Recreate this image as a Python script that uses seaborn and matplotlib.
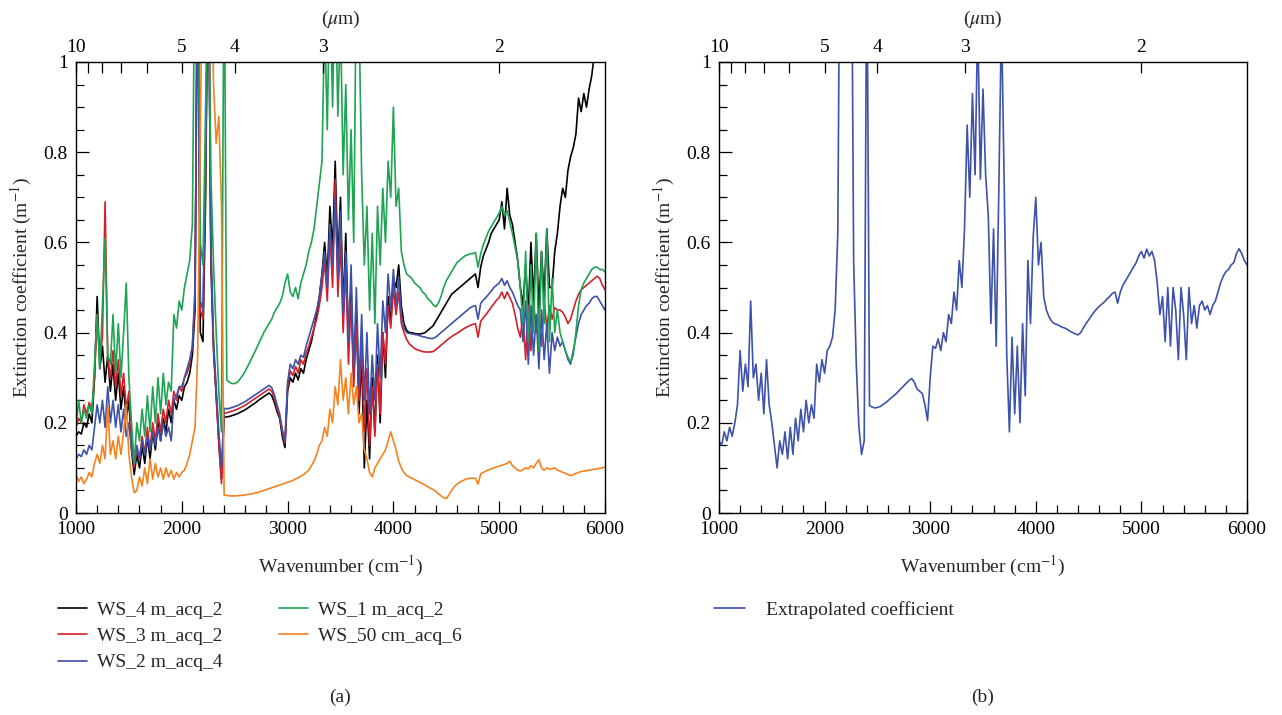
import numpy as np
import pandas as pd
import matplotlib
matplotlib.use("Agg")
import matplotlib.pyplot as plt
import seaborn as sns

# ---------------- data ----------------
wavenumber = list(range(1000, 6001, 25))  # cm^-1

ws_4m_acq_2 = [
    0.17, 0.18, 0.175, 0.20, 0.19, 0.22, 0.20, 0.30, 0.48, 0.32, 0.37, 0.29, 0.35, 0.27, 0.33, 0.25, 0.31, 0.23, 0.28, 0.21,
    0.25, 0.14, 0.085, 0.13, 0.10, 0.15, 0.11, 0.17, 0.12, 0.18, 0.14, 0.20, 0.16, 0.21, 0.18, 0.23, 0.20, 0.25, 0.23, 0.26,
    0.25, 0.28, 0.29, 0.31, 0.35, 0.45, 1.3, 0.40, 0.38, 0.70, 1.3, 0.55, 0.36, 0.26, 0.16, 0.075, 0.213, 0.213, 0.214, 0.216,
    0.218, 0.22, 0.223, 0.226, 0.229, 0.233, 0.237, 0.241, 0.245, 0.25, 0.254, 0.258, 0.262, 0.266, 0.26, 0.245, 0.225, 0.21, 0.17, 0.145,
    0.27, 0.30, 0.29, 0.31, 0.295, 0.32, 0.31, 0.34, 0.36, 0.38, 0.41, 0.44, 0.48, 0.53, 0.60, 0.52, 0.68, 0.58, 0.78, 0.55,
    0.70, 0.45, 0.62, 0.38, 0.50, 0.30, 0.45, 0.22, 0.35, 0.10, 0.25, 0.12, 0.30, 0.18, 0.35, 0.20, 0.40, 0.30, 0.48, 0.42,
    0.52, 0.50, 0.55, 0.46, 0.42, 0.405, 0.40, 0.40, 0.398, 0.397, 0.397, 0.398, 0.40, 0.405, 0.41, 0.415, 0.425, 0.435, 0.445, 0.455,
    0.465, 0.475, 0.485, 0.49, 0.495, 0.50, 0.505, 0.51, 0.515, 0.52, 0.525, 0.53, 0.50, 0.545, 0.57, 0.585, 0.60, 0.62, 0.63, 0.64,
    0.65, 0.69, 0.63, 0.72, 0.66, 0.64, 0.60, 0.56, 0.50, 0.46, 0.55, 0.44, 0.60, 0.47, 0.62, 0.45, 0.58, 0.48, 0.63, 0.50,
    0.50, 0.58, 0.62, 0.68, 0.72, 0.70, 0.76, 0.79, 0.81, 0.84, 0.92, 0.89, 0.93, 0.90, 0.94, 0.97, 1.02, 1.08, 1.12, 1.16,
    1.2,
]

ws_3m_acq_2 = [
    0.19, 0.21, 0.20, 0.24, 0.22, 0.245, 0.23, 0.30, 0.44, 0.34, 0.39, 0.69, 0.34, 0.30, 0.36, 0.28, 0.34, 0.26, 0.31, 0.23,
    0.27, 0.16, 0.10, 0.14, 0.12, 0.17, 0.13, 0.19, 0.14, 0.20, 0.16, 0.22, 0.18, 0.23, 0.20, 0.25, 0.22, 0.27, 0.25, 0.28,
    0.27, 0.30, 0.31, 0.33, 0.37, 0.48, 1.3, 0.45, 0.43, 0.75, 1.3, 0.58, 0.37, 0.26, 0.15, 0.065, 0.222, 0.222, 0.224, 0.226,
    0.228, 0.23, 0.233, 0.236, 0.239, 0.243, 0.247, 0.251, 0.255, 0.259, 0.263, 0.267, 0.271, 0.275, 0.27, 0.255, 0.232, 0.215, 0.18, 0.155,
    0.28, 0.315, 0.305, 0.325, 0.31, 0.34, 0.33, 0.355, 0.37, 0.39, 0.41, 0.43, 0.46, 0.50, 0.56, 0.47, 0.62, 0.50, 0.74, 0.48,
    0.60, 0.40, 0.55, 0.33, 0.47, 0.28, 0.42, 0.25, 0.38, 0.18, 0.32, 0.15, 0.28, 0.17, 0.33, 0.22, 0.40, 0.33, 0.46, 0.41,
    0.50, 0.44, 0.49, 0.42, 0.40, 0.385, 0.375, 0.37, 0.365, 0.362, 0.36, 0.358, 0.357, 0.357, 0.357, 0.358, 0.362, 0.367, 0.372, 0.377,
    0.382, 0.387, 0.391, 0.395, 0.398, 0.402, 0.406, 0.41, 0.413, 0.416, 0.418, 0.42, 0.39, 0.425, 0.433, 0.44, 0.448, 0.456, 0.464, 0.472,
    0.478, 0.49, 0.475, 0.49, 0.478, 0.465, 0.44, 0.41, 0.39, 0.44, 0.34, 0.46, 0.36, 0.47, 0.40, 0.45, 0.37, 0.47, 0.41, 0.46,
    0.43, 0.455, 0.45, 0.45, 0.445, 0.435, 0.42, 0.43, 0.45, 0.47, 0.485, 0.495, 0.50, 0.505, 0.51, 0.515, 0.52, 0.525, 0.52, 0.505,
    0.495,
]

ws_2m_acq_4 = [
    0.12, 0.13, 0.125, 0.14, 0.13, 0.15, 0.14, 0.19, 0.24, 0.20, 0.25, 0.19, 0.28, 0.20, 0.25, 0.19, 0.24, 0.18, 0.23, 0.17,
    0.20, 0.14, 0.11, 0.15, 0.12, 0.16, 0.13, 0.17, 0.14, 0.18, 0.15, 0.19, 0.16, 0.20, 0.17, 0.19, 0.16, 0.25, 0.26, 0.28,
    0.28, 0.30, 0.32, 0.34, 0.37, 0.50, 1.3, 0.47, 0.45, 0.78, 1.3, 0.60, 0.38, 0.28, 0.18, 0.10, 0.232, 0.231, 0.232, 0.234,
    0.236, 0.238, 0.241, 0.244, 0.247, 0.251, 0.255, 0.259, 0.263, 0.267, 0.271, 0.275, 0.279, 0.283, 0.278, 0.262, 0.24, 0.22, 0.185, 0.16,
    0.29, 0.33, 0.32, 0.34, 0.33, 0.35, 0.345, 0.37, 0.39, 0.41, 0.43, 0.45, 0.48, 0.53, 0.58, 0.50, 0.64, 0.55, 0.70, 0.52,
    0.67, 0.44, 0.58, 0.38, 0.55, 0.32, 0.50, 0.28, 0.44, 0.25, 0.40, 0.22, 0.35, 0.25, 0.42, 0.30, 0.47, 0.40, 0.53, 0.45,
    0.54, 0.46, 0.52, 0.44, 0.41, 0.40, 0.398, 0.397, 0.396, 0.395, 0.393, 0.391, 0.39, 0.388, 0.387, 0.387, 0.39, 0.395, 0.40, 0.405,
    0.41, 0.415, 0.42, 0.425, 0.43, 0.435, 0.44, 0.445, 0.45, 0.455, 0.458, 0.46, 0.43, 0.465, 0.472, 0.478, 0.485, 0.492, 0.50, 0.505,
    0.51, 0.52, 0.505, 0.515, 0.50, 0.49, 0.475, 0.46, 0.45, 0.38, 0.47, 0.33, 0.46, 0.35, 0.44, 0.32, 0.45, 0.34, 0.42, 0.31,
    0.40, 0.36, 0.39, 0.37, 0.38, 0.36, 0.34, 0.33, 0.36, 0.39, 0.42, 0.44, 0.45, 0.46, 0.465, 0.475, 0.48, 0.48, 0.47, 0.46,
    0.45,
]

ws_1m_acq_2 = [
    0.19, 0.25, 0.20, 0.23, 0.21, 0.24, 0.22, 0.33, 0.44, 0.32, 0.46, 0.61, 0.35, 0.33, 0.44, 0.31, 0.42, 0.30, 0.40, 0.51,
    0.30, 0.20, 0.11, 0.20, 0.16, 0.23, 0.17, 0.26, 0.18, 0.28, 0.20, 0.30, 0.22, 0.31, 0.24, 0.29, 0.27, 0.44, 0.41, 0.47,
    0.45, 0.50, 0.53, 0.56, 0.64, 1.3, 1.5, 0.60, 0.55, 0.90, 1.3, 0.75, 0.55, 0.40, 0.27, 0.18, 1.3, 0.295, 0.29, 0.287,
    0.287, 0.29, 0.297, 0.305, 0.315, 0.326, 0.338, 0.35, 0.362, 0.375, 0.387, 0.40, 0.41, 0.42, 0.43, 0.445, 0.455, 0.465, 0.48, 0.51,
    0.53, 0.49, 0.48, 0.50, 0.475, 0.51, 0.53, 0.55, 0.58, 0.60, 0.63, 0.68, 0.73, 0.78, 1.1, 0.85, 1.2, 0.90, 1.2, 0.88,
    1.1, 0.75, 0.95, 0.65, 0.85, 0.60, 1.2, 1.1, 0.75, 0.55, 0.68, 0.45, 0.62, 0.42, 0.68, 0.55, 0.72, 0.60, 0.78, 0.70,
    0.90, 0.68, 0.72, 0.58, 0.55, 0.53, 0.525, 0.52, 0.51, 0.505, 0.50, 0.49, 0.485, 0.475, 0.47, 0.462, 0.457, 0.465, 0.48, 0.50,
    0.515, 0.525, 0.535, 0.545, 0.555, 0.56, 0.565, 0.57, 0.572, 0.575, 0.575, 0.578, 0.545, 0.575, 0.595, 0.61, 0.625, 0.635, 0.645, 0.655,
    0.665, 0.68, 0.66, 0.67, 0.645, 0.62, 0.59, 0.56, 0.50, 0.42, 0.58, 0.38, 0.55, 0.40, 0.62, 0.36, 0.58, 0.42, 0.63, 0.38,
    0.52, 0.40, 0.45, 0.40, 0.38, 0.36, 0.345, 0.335, 0.35, 0.40, 0.46, 0.495, 0.51, 0.52, 0.53, 0.54, 0.545, 0.545, 0.54, 0.54,
    0.535,
]

ws_50cm_acq_6 = [
    0.085, 0.07, 0.08, 0.065, 0.075, 0.09, 0.08, 0.11, 0.13, 0.11, 0.15, 0.12, 0.24, 0.13, 0.16, 0.12, 0.17, 0.13, 0.18, 0.24,
    0.13, 0.08, 0.045, 0.05, 0.08, 0.06, 0.10, 0.065, 0.12, 0.075, 0.11, 0.08, 0.10, 0.075, 0.10, 0.08, 0.095, 0.075, 0.09, 0.08,
    0.09, 0.095, 0.11, 0.13, 0.16, 0.19, 0.35, 0.85, 1.3, 1.5, 1.5, 1.3, 0.95, 0.82, 0.88, 0.68, 0.04, 0.039, 0.038, 0.038,
    0.038, 0.038, 0.039, 0.039, 0.04, 0.041, 0.042, 0.043, 0.045, 0.046, 0.048, 0.05, 0.052, 0.054, 0.056, 0.058, 0.06, 0.062, 0.064, 0.066,
    0.068, 0.07, 0.072, 0.076, 0.078, 0.082, 0.085, 0.09, 0.095, 0.105, 0.115, 0.13, 0.15, 0.16, 0.19, 0.17, 0.23, 0.20, 0.28, 0.24,
    0.34, 0.25, 0.30, 0.22, 0.31, 0.24, 0.28, 0.20, 0.22, 0.14, 0.12, 0.09, 0.08, 0.10, 0.11, 0.12, 0.13, 0.14, 0.16, 0.18,
    0.16, 0.14, 0.115, 0.10, 0.09, 0.083, 0.08, 0.077, 0.074, 0.071, 0.068, 0.065, 0.062, 0.058, 0.055, 0.052, 0.048, 0.043, 0.038, 0.034,
    0.032, 0.04, 0.05, 0.058, 0.064, 0.068, 0.071, 0.074, 0.076, 0.077, 0.077, 0.077, 0.064, 0.087, 0.09, 0.093, 0.096, 0.098, 0.10, 0.102,
    0.104, 0.106, 0.108, 0.11, 0.115, 0.105, 0.10, 0.095, 0.093, 0.096, 0.10, 0.098, 0.105, 0.10, 0.11, 0.118, 0.10, 0.095, 0.10, 0.097,
    0.098, 0.10, 0.095, 0.093, 0.09, 0.088, 0.085, 0.083, 0.085, 0.088, 0.09, 0.092, 0.093, 0.094, 0.095, 0.096, 0.097, 0.098, 0.099, 0.10,
    0.102,
]

extrapolated = [
    0.16, 0.15, 0.18, 0.16, 0.19, 0.17, 0.20, 0.24, 0.36, 0.27, 0.33, 0.28, 0.47, 0.30, 0.33, 0.25, 0.31, 0.22, 0.34, 0.24,
    0.20, 0.15, 0.10, 0.16, 0.13, 0.18, 0.12, 0.19, 0.13, 0.21, 0.16, 0.23, 0.18, 0.25, 0.20, 0.24, 0.21, 0.33, 0.29, 0.34,
    0.31, 0.36, 0.37, 0.39, 0.45, 0.62, 1.5, 1.5, 1.5, 1.5, 1.5, 0.56, 0.33, 0.19, 0.13, 0.16, 1.3, 0.238, 0.235, 0.233,
    0.234, 0.236, 0.24, 0.244, 0.249, 0.254, 0.259, 0.264, 0.27, 0.276, 0.282, 0.288, 0.294, 0.298, 0.29, 0.275, 0.27, 0.265, 0.24, 0.205,
    0.30, 0.37, 0.365, 0.386, 0.36, 0.40, 0.38, 0.44, 0.42, 0.49, 0.45, 0.56, 0.50, 0.63, 0.86, 0.70, 0.93, 0.75, 1.1, 0.74,
    0.94, 0.75, 0.66, 0.42, 0.63, 0.37, 0.72, 1.1, 0.74, 0.35, 0.18, 0.39, 0.22, 0.37, 0.20, 0.42, 0.26, 0.56, 0.42, 0.61,
    0.70, 0.55, 0.60, 0.48, 0.45, 0.435, 0.425, 0.42, 0.418, 0.415, 0.412, 0.41, 0.407, 0.403, 0.40, 0.397, 0.395, 0.40, 0.41, 0.42,
    0.428, 0.437, 0.445, 0.452, 0.458, 0.463, 0.468, 0.475, 0.48, 0.487, 0.49, 0.465, 0.49, 0.505, 0.515, 0.525, 0.535, 0.545, 0.555, 0.57,
    0.58, 0.565, 0.585, 0.57, 0.58, 0.56, 0.51, 0.44, 0.48, 0.38, 0.50, 0.37, 0.50, 0.45, 0.34, 0.50, 0.44, 0.34, 0.50, 0.42,
    0.46, 0.41, 0.46, 0.47, 0.45, 0.46, 0.44, 0.46, 0.47, 0.49, 0.51, 0.525, 0.535, 0.54, 0.55, 0.555, 0.575, 0.586, 0.575, 0.56,
    0.55,
]

series_labels = ["WS_4 m_acq_2", "WS_3 m_acq_2", "WS_2 m_acq_4", "WS_1 m_acq_2", "WS_50 cm_acq_6"]
series_colors = ["#000000", "#d4202a", "#3d52a8", "#1fa354", "#f58220"]
micron_ticks = [10, 9, 8, 7, 6, 5, 4, 3, 2]
micron_labels = ["10", "", "", "", "", "5", "4", "3", "2"]

# ---------------- styling ----------------
sns.set_theme(style="ticks")
plt.rcParams["font.family"] = ["Liberation Serif", "DejaVu Serif"]
plt.rcParams["mathtext.fontset"] = "stix"
plt.rcParams["axes.linewidth"] = 1.0
FS = 14

fig = plt.figure(figsize=(12.82, 7.15), dpi=100)
W, H = 1282, 715
def rect(x0, y0, x1, y1):
    return [x0 / W, 1 - y1 / H, (x1 - x0) / W, (y1 - y0) / H]

axL = fig.add_axes(rect(76, 62, 605, 513))
axR = fig.add_axes(rect(719, 62, 1247, 513))

df = pd.DataFrame({
    "wavenumber": wavenumber,
    series_labels[0]: ws_4m_acq_2,
    series_labels[1]: ws_3m_acq_2,
    series_labels[2]: ws_2m_acq_4,
    series_labels[3]: ws_1m_acq_2,
    series_labels[4]: ws_50cm_acq_6,
    "Extrapolated coefficient": extrapolated,
})

for lab, col in zip(series_labels, series_colors):
    sns.lineplot(data=df, x="wavenumber", y=lab, color=col, lw=1.2, ax=axL,
                 label=lab, estimator=None, sort=False)
sns.lineplot(data=df, x="wavenumber", y="Extrapolated coefficient", color="#3d52a8",
             lw=1.2, ax=axR, label="Extrapolated coefficient", estimator=None, sort=False)

for ax in (axL, axR):
    ax.set_xlim(1000, 6000)
    ax.set_ylim(0, 1)
    ax.set_xticks([1000, 2000, 3000, 4000, 5000, 6000])
    ax.set_xticks(list(range(1000, 6001, 200)), minor=True)
    ax.set_yticks([0, 0.2, 0.4, 0.6, 0.8, 1.0])
    ax.set_yticklabels(["0", "0.2", "0.4", "0.6", "0.8", "1"])
    ax.set_yticks([i * 0.05 for i in range(21)], minor=True)
    ax.tick_params(which="both", direction="in", top=False, right=False,
                   labelsize=FS, colors="black", width=0.9)
    ax.tick_params(which="major", length=9, pad=6)
    ax.tick_params(which="minor", length=6)
    for s in ax.spines.values():
        s.set_color("black")
        s.set_linewidth(1.0)
    ax.set_xlabel(r"Wavenumber (cm$^{-1}$)", fontsize=FS, labelpad=11)
    ax.set_ylabel(r"Extinction coefficient (m$^{-1}$)", fontsize=FS, labelpad=7)

    top = ax.twiny()
    top.set_xlim(1000, 6000)
    top.set_xticks([1e4 / m for m in micron_ticks])
    top.set_xticklabels(micron_labels)
    top.xaxis.set_minor_locator(matplotlib.ticker.NullLocator())
    top.tick_params(direction="in", length=8, width=0.9, labelsize=FS, pad=4, colors="black")
    top.set_xlabel(r"($\mu$m)", fontsize=FS, labelpad=11)
    for s in top.spines.values():
        s.set_visible(False)

axL.legend(loc="upper left", bbox_to_anchor=(58 / W, 1 - 601 / H),
           bbox_transform=fig.transFigure, ncol=2, frameon=False, fontsize=FS,
           handlelength=1.5, handletextpad=0.5, columnspacing=2.9,
           labelspacing=0.45, borderaxespad=0, borderpad=0)
axR.legend(loc="upper left", bbox_to_anchor=(714 / W, 1 - 601 / H),
           bbox_transform=fig.transFigure, frameon=False, fontsize=FS,
           handlelength=1.6, handletextpad=1.1, borderaxespad=0, borderpad=0)

fig.text(340 / W, 1 - 697 / H, "(a)", ha="center", va="center", fontsize=FS)
fig.text(983 / W, 1 - 697 / H, "(b)", ha="center", va="center", fontsize=FS)

fig.savefig("out.png", dpi=100)
